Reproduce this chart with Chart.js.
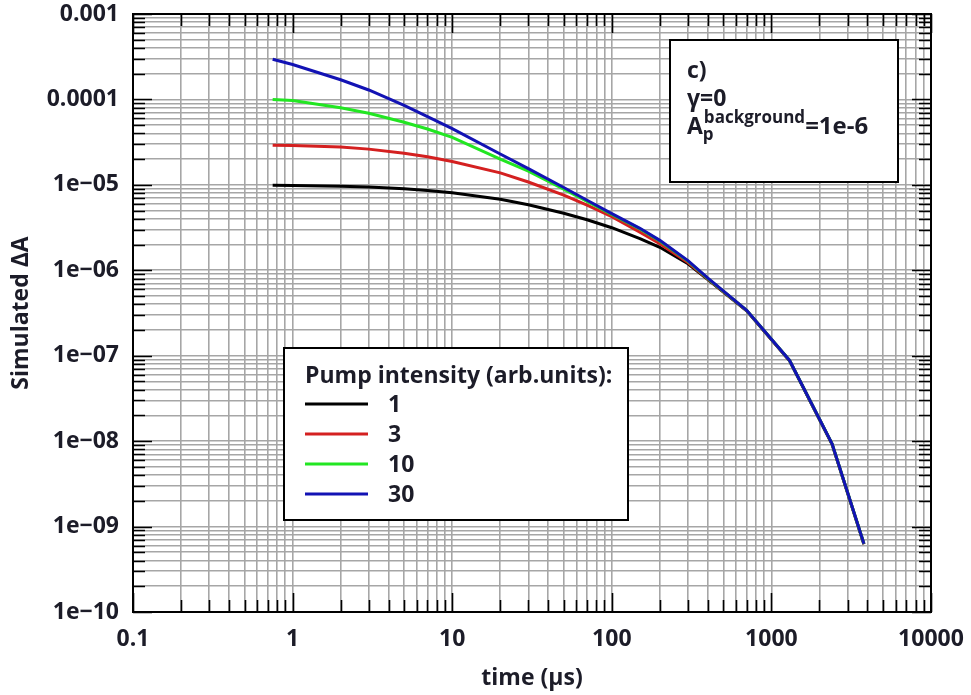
<!DOCTYPE html>
<html><head><meta charset="utf-8">
<script src="https://cdn.jsdelivr.net/npm/chart.js@4.4.0/dist/chart.umd.min.js"></script>
<style>html,body{margin:0;padding:0;background:#fff;}</style>
</head><body>
<canvas id="c" width="971" height="695"></canvas>
<script>
// ---- data ----
const times = [0.75, 1, 2, 3, 5, 7, 10, 20, 30, 50, 70, 100, 150, 200, 300, 400, 700, 1300, 2400, 3800];
const pumpIntensities = ['1', '3', '10', '30'];
const deltaA_pump1  = [9.9e-6, 9.85e-6, 9.65e-6, 9.42e-6, 9.0e-6, 8.6e-6, 8.1e-6, 6.8e-6, 5.85e-6, 4.65e-6, 3.9e-6, 3.15e-6, 2.35e-6, 1.86e-6, 1.19e-6, 7.8e-7, 3.35e-7, 8.7e-8, 9.2e-9, 6.2e-10];
const deltaA_pump3  = [2.9e-5, 2.88e-5, 2.77e-5, 2.62e-5, 2.35e-5, 2.13e-5, 1.88e-5, 1.38e-5, 1.08e-5, 7.6e-6, 5.8e-6, 4.25e-6, 2.8e-6, 2.05e-6, 1.23e-6, 7.9e-7, 3.37e-7, 8.75e-8, 9.25e-9, 6.25e-10];
const deltaA_pump10 = [1.0e-4, 9.7e-5, 8.0e-5, 6.9e-5, 5.4e-5, 4.5e-5, 3.6e-5, 2.0e-5, 1.45e-5, 8.9e-6, 6.4e-6, 4.5e-6, 3.05e-6, 2.2e-6, 1.28e-6, 8.0e-7, 3.4e-7, 8.8e-8, 9.3e-9, 6.3e-10];
const deltaA_pump30 = [2.95e-4, 2.56e-4, 1.7e-4, 1.29e-4, 8.5e-5, 6.3e-5, 4.55e-5, 2.3e-5, 1.55e-5, 9.3e-6, 6.6e-6, 4.6e-6, 3.1e-6, 2.24e-6, 1.3e-6, 8.1e-7, 3.4e-7, 8.8e-8, 9.3e-9, 6.3e-10];
const xTickValues = [0.1, 1, 10, 100, 1000, 10000];
const xTickLabels = ['0.1', '1', '10', '100', '1000', '10000'];
const yTickValues = [1e-10, 1e-9, 1e-8, 1e-7, 1e-6, 1e-5, 1e-4, 1e-3];
const yTickLabels = ['1e\u221210', '1e\u221209', '1e\u221208', '1e\u221207', '1e\u221206', '1e\u221205', '0.0001', '0.001'];
const legendTitle = 'Pump intensity (arb.units):';
const annotationLines = ['c)', '\u03b3=0'];

// ---- styles ----
const seriesColors = ['#000000', '#d42020', '#22e622', '#1212b4'];
const FONT = '"Open Sans", "DejaVu Sans", sans-serif';
const TEXT = '#1c1c28';

const allSeries = [deltaA_pump1, deltaA_pump3, deltaA_pump10, deltaA_pump30];

function logTicks(min, max) {
  const out = [];
  for (let e = Math.floor(Math.log10(min)) - 1; e <= Math.ceil(Math.log10(max)); e++) {
    for (let m = 1; m < 10; m++) {
      const v = m * Math.pow(10, e);
      if (v >= min * 0.9999 && v <= max * 1.0001) out.push({ value: v, major: m === 1 });
    }
  }
  return out;
}
function labelFor(value, vals, labels) {
  const i = vals.findIndex(v => Math.abs(Math.log10(v) - Math.log10(value)) < 1e-6);
  return i >= 0 ? labels[i] : '';
}

const boxesPlugin = {
  id: 'boxes',
  afterDraw(chart) {
    const ctx = chart.ctx;
    const xs = chart.scales.x, ys = chart.scales.y;
    const a = chart.chartArea;
    ctx.save();
    // inward tick marks on all four sides
    ctx.strokeStyle = '#000';
    ctx.lineWidth = 1.6;
    ctx.beginPath();
    xs.ticks.forEach(t => {
      const px = Math.round(xs.getPixelForValue(t.value)) + 0.5;
      const len = t.major ? 19 : 12;
      ctx.moveTo(px, a.bottom); ctx.lineTo(px, a.bottom - len);
      ctx.moveTo(px, a.top); ctx.lineTo(px, a.top + len);
    });
    ys.ticks.forEach(t => {
      const py = Math.round(ys.getPixelForValue(t.value)) + 0.5;
      const len = t.major ? 19 : 12;
      ctx.moveTo(a.left, py); ctx.lineTo(a.left + len, py);
      ctx.moveTo(a.right, py); ctx.lineTo(a.right - len, py);
    });
    ctx.stroke();
    // frame
    ctx.lineWidth = 2;
    ctx.strokeRect(a.left, a.top, a.right - a.left, a.bottom - a.top);

    // legend box
    const L = { x: 284, y: 348, w: 344, h: 172 };
    ctx.fillStyle = '#fff';
    ctx.fillRect(L.x, L.y, L.w, L.h);
    ctx.lineWidth = 2;
    ctx.strokeStyle = '#000';
    ctx.strokeRect(L.x, L.y, L.w, L.h);
    ctx.fillStyle = TEXT;
    ctx.font = 'bold 23px ' + FONT;
    ctx.textBaseline = 'middle';
    ctx.textAlign = 'left';
    ctx.fillText(legendTitle, 305, 376);
    chart.data.datasets.forEach((ds, i) => {
      const y = 404 + i * 30;
      ctx.strokeStyle = ds.borderColor;
      ctx.lineWidth = 3;
      ctx.beginPath(); ctx.moveTo(305, y); ctx.lineTo(368, y); ctx.stroke();
      ctx.fillStyle = TEXT;
      ctx.fillText(ds.label, 388, y + 1);
    });

    // annotation box
    const B = { x: 670, y: 40, w: 228, h: 142 };
    ctx.fillStyle = '#fff';
    ctx.fillRect(B.x, B.y, B.w, B.h);
    ctx.lineWidth = 2;
    ctx.strokeStyle = '#000';
    ctx.strokeRect(B.x, B.y, B.w, B.h);
    ctx.fillStyle = TEXT;
    ctx.textBaseline = 'alphabetic';
    ctx.font = 'bold 23px ' + FONT;
    ctx.fillText(annotationLines[0], 687, 78);
    ctx.fillText(annotationLines[1], 687, 106);
    let x = 687;
    ctx.fillText('A', x, 134);
    x += ctx.measureText('A').width;
    ctx.font = 'bold 17px ' + FONT;
    ctx.fillText('p', x, 140);
    ctx.fillText('background', x + 1, 123);
    x += ctx.measureText('background').width + 1;
    ctx.font = 'bold 24px ' + FONT;
    ctx.fillText('=1e-6', x, 134);
    ctx.restore();
  }
};

const datasets = allSeries.map((vals, i) => ({
  label: pumpIntensities[i],
  data: times.map((t, j) => ({ x: t, y: vals[j] })),
  borderColor: seriesColors[i],
  backgroundColor: seriesColors[i],
  borderWidth: 3,
  pointRadius: 0,
  tension: 0,
  fill: false,
  order: allSeries.length - i
}));

new Chart(document.getElementById('c'), {
  type: 'line',
  data: { datasets },
  options: {
    responsive: false,
    animation: false,
    devicePixelRatio: 1,
    layout: { padding: { left: 0, top: 14, right: 40, bottom: 0 } },
    plugins: { legend: { display: false }, tooltip: { enabled: false } },
    scales: {
      x: {
        type: 'logarithmic',
        min: 0.1, max: 10000,
        afterBuildTicks: s => { s.ticks = logTicks(0.1, 10000); },
        afterFit: s => { s.height = 83; s.paddingLeft = 0; s.paddingRight = 0; },
        grid: { color: '#a6a6a6', lineWidth: 1.6, drawTicks: false },
        border: { display: false },
        ticks: {
          autoSkip: false, maxRotation: 0, padding: 14,
          color: TEXT, font: { family: FONT, size: 23, weight: 'bold' },
          callback: v => labelFor(v, xTickValues, xTickLabels)
        },
        title: { display: true, text: 'time (\u03bcs)', color: TEXT,
          font: { family: FONT, size: 23, weight: 'bold' }, padding: { top: 0, bottom: 3 } }
      },
      y: {
        type: 'logarithmic',
        min: 1e-10, max: 1e-3,
        afterBuildTicks: s => { s.ticks = logTicks(1e-10, 1e-3); },
        afterFit: s => { s.width = 133; s.paddingTop = 0; s.paddingBottom = 0; },
        grid: { color: '#a6a6a6', lineWidth: 1.6, drawTicks: false },
        border: { display: false },
        ticks: {
          autoSkip: false, padding: 14,
          color: TEXT, font: { family: FONT, size: 23, weight: 'bold' },
          callback: v => labelFor(v, yTickValues, yTickLabels)
        },
        title: { display: true, text: 'Simulated \u0394A', color: TEXT,
          font: { family: FONT, size: 23, weight: 'bold' }, padding: { top: 8, bottom: 0 } }
      }
    }
  },
  plugins: [boxesPlugin]
});
</script>
</body></html>
